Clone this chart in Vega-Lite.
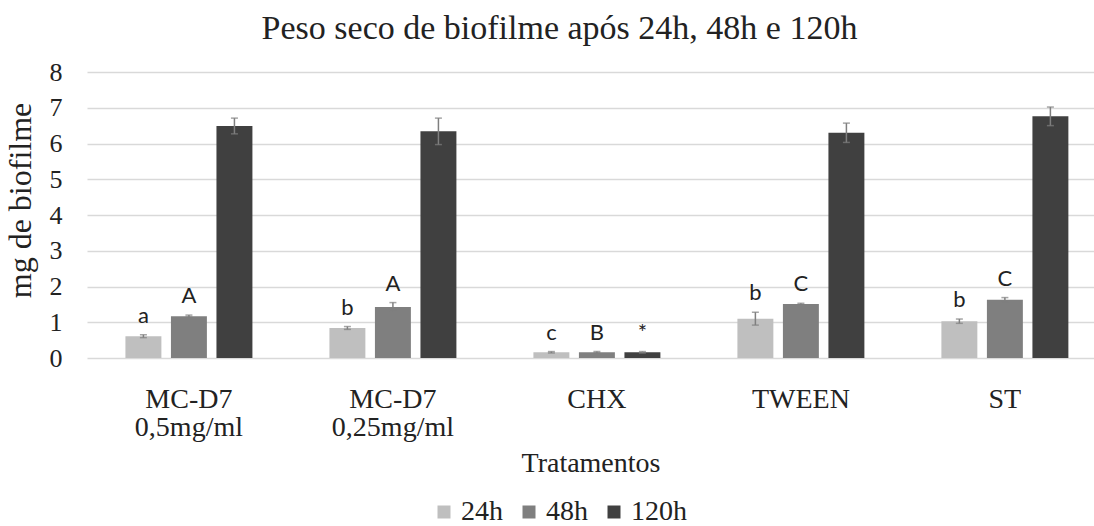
{
  "$schema": "https://vega.github.io/schema/vega-lite/v6.json",
  "width": 1007,
  "height": 286,
  "autosize": "none",
  "padding": {"left": 87, "top": 72, "right": 0, "bottom": 168},
  "background": "white",
  "title": {"text": "Peso seco de biofilme após 24h, 48h e 120h", "font": "Liberation Serif", "fontSize": 34, "fontWeight": "normal", "color": "#222222", "offset": 13, "anchor": "middle", "dx": -31},
  "data": {"values": [
    {"treat": "MC-D7|0,5mg/ml", "time": "24h", "value": 0.61, "err": 0.04, "label": "a"},
    {"treat": "MC-D7|0,5mg/ml", "time": "48h", "value": 1.17, "err": 0.03, "label": "A"},
    {"treat": "MC-D7|0,5mg/ml", "time": "120h", "value": 6.49, "err": 0.22, "label": ""},
    {"treat": "MC-D7|0,25mg/ml", "time": "24h", "value": 0.84, "err": 0.04, "label": "b"},
    {"treat": "MC-D7|0,25mg/ml", "time": "48h", "value": 1.43, "err": 0.12, "label": "A"},
    {"treat": "MC-D7|0,25mg/ml", "time": "120h", "value": 6.34, "err": 0.37, "label": ""},
    {"treat": "CHX", "time": "24h", "value": 0.16, "err": 0.02, "label": "c"},
    {"treat": "CHX", "time": "48h", "value": 0.16, "err": 0.02, "label": "B"},
    {"treat": "CHX", "time": "120h", "value": 0.16, "err": 0.02, "label": "*"},
    {"treat": "TWEEN", "time": "24h", "value": 1.10, "err": 0.18, "label": "b"},
    {"treat": "TWEEN", "time": "48h", "value": 1.51, "err": 0.02, "label": "C"},
    {"treat": "TWEEN", "time": "120h", "value": 6.30, "err": 0.27, "label": ""},
    {"treat": "ST", "time": "24h", "value": 1.03, "err": 0.06, "label": "b"},
    {"treat": "ST", "time": "48h", "value": 1.63, "err": 0.06, "label": "C"},
    {"treat": "ST", "time": "120h", "value": 6.76, "err": 0.26, "label": ""}
  ]},
  "transform": [
    {"calculate": "datum.value - datum.err", "as": "lo"},
    {"calculate": "datum.value + datum.err", "as": "hi"}
  ],
  "encoding": {
    "x": {"field": "treat", "type": "nominal", "sort": null,
      "scale": {"paddingInner": 0.3775, "paddingOuter": 0.157, "align": 0.6},
      "axis": {"title": "Tratamentos", "titleFont": "Liberation Serif", "titleFontSize": 28, "titleFontWeight": "normal", "titleColor": "#222222", "titlePadding": 8,
        "labelExpr": "split(datum.label, '|')", "labelAngle": 0, "labelFont": "Liberation Serif", "labelFontSize": 28, "labelColor": "#222222", "labelPadding": 27, "labelLineHeight": 28,
        "ticks": false, "domain": false, "grid": false}},
    "xOffset": {"field": "time", "type": "nominal", "sort": ["24h", "48h", "120h"], "scale": {"paddingInner": 0.21, "paddingOuter": 0}}
  },
  "layer": [
    {
      "mark": {"type": "bar"},
      "encoding": {
        "y": {"field": "value", "type": "quantitative",
          "scale": {"domain": [0, 8], "nice": false},
          "axis": {"title": "mg de biofilme", "titleFont": "Liberation Serif", "titleFontSize": 32, "titleFontWeight": "normal", "titleColor": "#222222", "titlePadding": 12, "titleY": 128,
            "labelFont": "Liberation Serif", "labelFontSize": 26, "labelColor": "#222222", "labelPadding": 25, "values": [0,1,2,3,4,5,6,7,8],
            "ticks": false, "domain": false, "gridColor": "#d9d9d9", "gridWidth": 1.5}},
        "color": {"field": "time", "type": "nominal", "sort": ["24h", "48h", "120h"],
          "scale": {"domain": ["24h", "48h", "120h"], "range": ["#bfbfbf", "#7f7f7f", "#404040"]},
          "legend": {"title": null, "orient": "none", "legendX": 343, "legendY": 426, "direction": "horizontal", "symbolType": "square", "symbolSize": 169, "symbolStrokeWidth": 0,
            "labelFont": "Liberation Serif", "labelFontSize": 28, "labelColor": "#222222", "labelOffset": 3, "columnPadding": 12, "padding": 0}}
      }
    },
    {
      "mark": {"type": "rule", "color": "#7f7f7f", "strokeWidth": 1.5},
      "encoding": {
        "y": {"field": "lo", "type": "quantitative",
          "axis": {"title": "mg de biofilme", "titleFont": "Liberation Serif", "titleFontSize": 32, "titleFontWeight": "normal", "titleColor": "#222222", "titlePadding": 12, "titleY": 128,
            "labelFont": "Liberation Serif", "labelFontSize": 26, "labelColor": "#222222", "labelPadding": 25, "values": [0,1,2,3,4,5,6,7,8],
            "ticks": false, "domain": false, "gridColor": "#d9d9d9", "gridWidth": 1.5}},
        "y2": {"field": "hi"}
      }
    },
    {
      "mark": {"type": "tick", "color": "#7f7f7f", "size": 7, "thickness": 1.5},
      "encoding": {"y": {"field": "lo", "type": "quantitative",
          "axis": {"title": "mg de biofilme", "titleFont": "Liberation Serif", "titleFontSize": 32, "titleFontWeight": "normal", "titleColor": "#222222", "titlePadding": 12, "titleY": 128,
            "labelFont": "Liberation Serif", "labelFontSize": 26, "labelColor": "#222222", "labelPadding": 25, "values": [0,1,2,3,4,5,6,7,8],
            "ticks": false, "domain": false, "gridColor": "#d9d9d9", "gridWidth": 1.5}}}
    },
    {
      "mark": {"type": "tick", "color": "#7f7f7f", "size": 7, "thickness": 1.5},
      "encoding": {"y": {"field": "hi", "type": "quantitative",
          "axis": {"title": "mg de biofilme", "titleFont": "Liberation Serif", "titleFontSize": 32, "titleFontWeight": "normal", "titleColor": "#222222", "titlePadding": 12, "titleY": 128,
            "labelFont": "Liberation Serif", "labelFontSize": 26, "labelColor": "#222222", "labelPadding": 25, "values": [0,1,2,3,4,5,6,7,8],
            "ticks": false, "domain": false, "gridColor": "#d9d9d9", "gridWidth": 1.5}}}
    },
    {
      "mark": {"type": "text", "font": "Lato", "fontSize": 22, "color": "#222222", "dy": -12, "baseline": "alphabetic"},
      "encoding": {
        "y": {"field": "hi", "type": "quantitative",
          "axis": {"title": "mg de biofilme", "titleFont": "Liberation Serif", "titleFontSize": 32, "titleFontWeight": "normal", "titleColor": "#222222", "titlePadding": 12, "titleY": 128,
            "labelFont": "Liberation Serif", "labelFontSize": 26, "labelColor": "#222222", "labelPadding": 25, "values": [0,1,2,3,4,5,6,7,8],
            "ticks": false, "domain": false, "gridColor": "#d9d9d9", "gridWidth": 1.5}},
        "text": {"field": "label"}
      }
    }
  ],
  "config": {"view": {"stroke": null}}
}
